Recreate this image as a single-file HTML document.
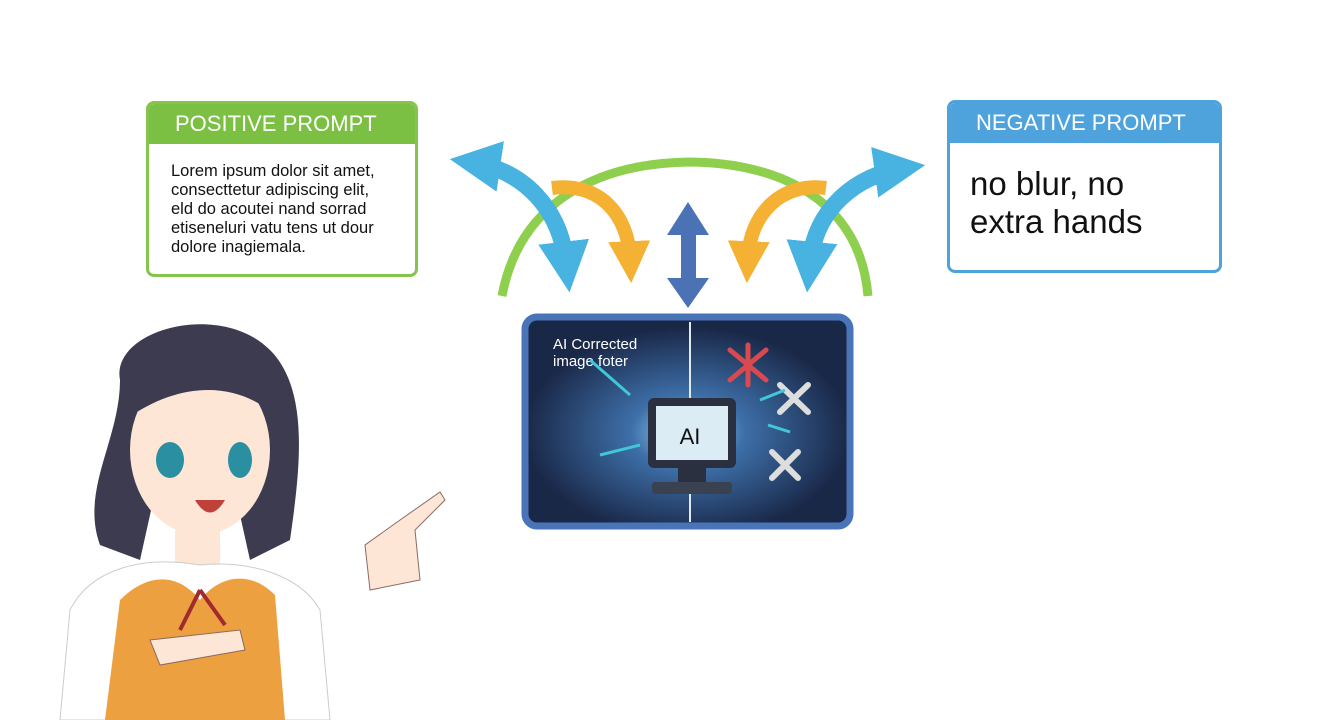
<!DOCTYPE html>
<html><head><meta charset="utf-8"><style>
body{margin:0;width:1320px;height:720px;background:#fff;overflow:hidden;position:relative;font-family:"Liberation Sans",sans-serif}
.box{position:absolute;border-radius:8px;background:#fff;overflow:hidden}
.h{color:#fff;font-size:22px;padding-left:26px;display:flex;align-items:center}
</style></head><body>
<svg width="1320" height="720" style="position:absolute;left:0;top:0">
<defs>
<marker id="mb" markerWidth="3" markerHeight="3" refX="1.2" refY="1.5" orient="auto" markerUnits="strokeWidth"><path d="M0,0L3,1.5L0,3Z" fill="#48b2e0"/></marker>
<marker id="mbs" markerWidth="3" markerHeight="3" refX="1.8" refY="1.5" orient="auto-start-reverse" markerUnits="strokeWidth"><path d="M0,0L3,1.5L0,3Z" fill="#48b2e0"/></marker>
<marker id="mo" markerWidth="3" markerHeight="3" refX="1.2" refY="1.5" orient="auto" markerUnits="strokeWidth"><path d="M0,0L3,1.5L0,3Z" fill="#f4b133"/></marker>
<radialGradient id="gl" cx="0.5" cy="0.55" r="0.5"><stop offset="0" stop-color="#9fd8ff"/><stop offset="0.35" stop-color="#3d6fa8"/><stop offset="1" stop-color="#1a2848"/></radialGradient>
</defs>
<path d="M502,296 C520,200 600,163 690,162 C780,163 860,200 868,296" fill="none" stroke="#8fcf4e" stroke-width="9"/>
<path d="M470,162 C525,170 560,210 566,262" fill="none" stroke="#48b2e0" stroke-width="17" marker-end="url(#mb)" marker-start="url(#mbs)"/>
<path d="M905,168 C855,175 815,210 810,262" fill="none" stroke="#48b2e0" stroke-width="17" marker-end="url(#mb)" marker-start="url(#mbs)"/>
<path d="M552,188 C600,182 628,215 630,258" fill="none" stroke="#f4b133" stroke-width="14" marker-end="url(#mo)"/>
<path d="M826,188 C780,182 750,215 748,258" fill="none" stroke="#f4b133" stroke-width="14" marker-end="url(#mo)"/>
<rect x="681" y="230" width="15" height="50" fill="#4a72b5"/>
<path d="M667,235L688,202L709,235Z M667,278L688,308L709,278Z" fill="#4a72b5"/>
<rect x="525" y="317" width="325" height="209" rx="12" fill="url(#gl)" stroke="#4a74b8" stroke-width="7"/>
<line x1="690" y1="322" x2="690" y2="522" stroke="#e0e8f0" stroke-width="2"/>
<rect x="648" y="398" width="88" height="70" rx="6" fill="#2a3040"/><rect x="656" y="406" width="72" height="54" fill="#dcecf5"/>
<rect x="652" y="482" width="80" height="12" rx="3" fill="#3a4150"/><rect x="678" y="468" width="28" height="14" fill="#2a3040"/>
<text x="690" y="444" font-size="22" text-anchor="middle" fill="#111">AI</text>
<text x="553" y="349" font-size="15" fill="#fff">AI Corrected</text><text x="553" y="366" font-size="15" fill="#fff">image foter</text>
<g stroke="#d84a50" stroke-width="5" stroke-linecap="round"><path d="M730,350L766,380M766,350L730,380M748,345L748,385"/></g>
<g stroke="#ddd" stroke-width="6" stroke-linecap="round" fill="none"><path d="M780,385L808,412M808,385L780,412"/><path d="M772,452L798,478M798,452L772,478"/></g>
<g stroke="#40c8d8" stroke-width="3"><path d="M590,360L630,395M600,455L640,445M768,425L790,432M760,400L785,390"/></g>
<!-- character -->
<path d="M120,380 C110,330 220,300 270,350 C310,390 300,470 290,540 L250,560 L230,470 L160,470 L140,560 L100,545 C80,490 120,440 120,380Z" fill="#3d3b50"/>
<ellipse cx="200" cy="450" rx="70" ry="85" fill="#fde6d6"/>
<path d="M125,420 C140,350 250,340 280,420 C240,380 180,380 125,420Z" fill="#3d3b50"/>
<ellipse cx="170" cy="460" rx="14" ry="18" fill="#2a8fa0"/><ellipse cx="240" cy="460" rx="12" ry="18" fill="#2a8fa0"/>
<path d="M195,500 Q210,525 225,500Z" fill="#c0403a"/>
<rect x="175" y="530" width="45" height="40" fill="#fde6d6"/>
<path d="M60,720 L70,610 C90,570 140,555 200,565 C250,560 300,575 320,610 L330,720Z" fill="#fff" stroke="#ccc"/>
<path d="M105,720 L120,600 C150,570 180,575 200,600 C220,575 250,570 275,595 L285,720Z" fill="#eda040"/>
<path d="M200,590 L180,630 M200,590 L225,625" stroke="#a02a30" stroke-width="4"/>
<path d="M370,590 L365,545 L400,520 L440,492 L445,500 L415,530 L420,580Z" fill="#fde6d6" stroke="#8a6a60"/>
<path d="M150,640 L240,630 L245,650 L160,665Z" fill="#fde6d6" stroke="#8a6a60"/>
</svg>
<div class="box" style="left:146px;top:101px;width:266px;height:170px;border:3px solid #85c44d">
<div class="h" style="background:#7cc043;height:40px">POSITIVE PROMPT</div>
<div style="padding:18px 0 0 22px;font-size:16.5px;line-height:19px;color:#111">Lorem ipsum dolor sit amet,<br>consecttetur adipiscing elit,<br>eld do acoutei nand sorrad<br>etiseneluri vatu tens ut dour<br>dolore inagiemala.</div></div>
<div class="box" style="left:947px;top:100px;width:269px;height:167px;border:3px solid #4fa3dc">
<div class="h" style="background:#4fa3dc;height:40px">NEGATIVE PROMPT</div>
<div style="padding:22px 0 0 20px;font-size:33px;line-height:38px;color:#111">no blur, no<br>extra hands</div></div>
</body></html>
